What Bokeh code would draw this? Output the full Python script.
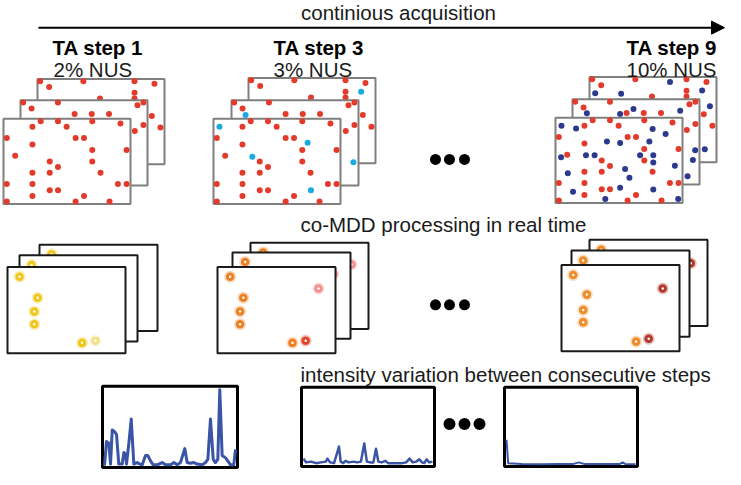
from bokeh.plotting import figure
from bokeh.models import Range1d, Arrow, NormalHead
from bokeh.core.properties import value
from bokeh.embed import file_html
from bokeh.resources import INLINE

# ---------------- data ----------------
step_titles = ["TA step 1", "TA step 3", "TA step 9"]
nus_labels = ["2% NUS", "3% NUS", "10% NUS"]
top_caption = "continious acquisition"
mid_caption = "co-MDD processing in real time"
bottom_caption = "intensity variation between consecutive steps"

# sampled points (relative position inside a sampling frame), shared by all steps
red_front = [(.228, .094), (.293, .03), (.429, .03), (.497, .094), (.699, .03), (.921, .057),
             (.026, .226), (.228, .302), (.568, .226), (.634, .226), (.092, .434), (.699, .366),
             (.969, .366), (.364, .502), (.429, .566), (.699, .502), (.228, .634), (.364, .634),
             (.764, .634), (.026, .766), (.228, .766), (.901, .766), (.969, .766), (.228, .906),
             (.364, .838), (.429, .838), (.634, .906), (.026, .970), (.568, .970), (.835, .970)]
red_mid = [(.021, .027), (.087, .095), (.295, .027), (.426, .160), (.561, .160), (.697, .160),
           (.921, .057), (.968, .027), (.968, .290), (.900, .360)]
red_back = [(.021, .027), (.092, .095), (.361, .027), (.764, .027), (.921, .057), (.764, .160),
            (.492, .229), (.764, .229), (.900, .435), (.968, .570)]

# new points added at step 3 (cyan) and by step 9 (navy)
cyan_front = [(.047, .094), (.306, .445), (.741, .283), (.767, .838)]
cyan_mid = [(.111, .172), (.960, .725)]
cyan_back = [(.887, .160)]
navy_front = [(.047, .095), (.162, .125), (.405, .278), (.509, .297), (.240, .441), (.308, .441),
              (.044, .464), (.666, .441), (.770, .441), (.770, .525), (.739, .278), (.867, .190),
              (.765, .133), (.097, .650), (.548, .601), (.582, .703), (.940, .563), (.138, .867),
              (.392, .954), (.509, .821), (.770, .840), (.966, .954)]
navy_mid = [(.113, .163), (.375, .171), (.480, .114), (.848, .133), (.966, .597), (.948, .711),
            (.906, .901)]
navy_back = [(.045, .189), (.249, .197), (.634, .057), (.887, .159), (.948, .341), (.908, .848)]

# co-MDD peaks per step: relative positions and colours
peaks_step1 = [(.102, .112), (.255, .356), (.227, .517), (.227, .663), (.632, .880), (.745, .854)]
peaks_step3 = [(.107, .112), (.219, .356), (.191, .517), (.191, .663), (.635, .880), (.747, .854), (.856, .251)]
peaks_step9 = [(.099, .116), (.215, .343), (.184, .522), (.184, .664), (.632, .888), (.739, .854), (.858, .272)]
peak_colors_step1 = ["#f0c61c", "#f0c61c", "#f0c61c", "#f0c61c", "#f0c61c", "#f3df8c"]
peak_colors_step3 = ["#ee8024", "#ee8024", "#ee8024", "#ee8024", "#ee8024", "#e2462b", "#f0928f"]
peak_colors_step9 = ["#ef8a29", "#ef8a29", "#ef8a29", "#ef8a29", "#ef8a29", "#b2382b", "#b2382b"]

# intensity-variation traces (x: 0..100 across panel, y: 0..1 of panel height)
trace1_x = [0, 1.5, 3.3, 4.6, 5.9, 7.6, 9.2, 10.9, 13.5, 14.8, 16.0, 16.8, 18.6, 20.4, 22.4, 24.9,
            27.0, 28.8, 31.3, 33.1, 35.1, 37.2, 40.2, 44.0, 46.6, 50.4, 52.9, 55.5, 58.0, 61.3,
            63.1, 65.6, 68.2, 70.7, 74.6, 77.1, 78.9, 80.9, 83.0, 84.7, 86.5, 88.0, 89.8, 92.4,
            94.1, 96.2, 98.7, 100]
trace1_y = [0, .31, .29, .02, .46, .44, .40, .02, .02, .17, .15, .02, .29, .60, .02, .04,
            .02, .01, .13, .13, .06, .01, .01, .04, .01, .01, .04, .01, .04, .22,
            .04, .03, .04, .02, .01, .04, .08, .60, .08, .04, .08, .98, .13, .10,
            .06, .01, .01, .21]
trace2_x = [0, 2.0, 5.9, 9.7, 13.5, 17.3, 18.6, 20.6, 23.7, 27.5, 28.8, 30.8, 32.6, 35.1, 38.9,
            41.5, 44.5, 47.1, 49.1, 51.7, 54.2, 56.2, 58.0, 60.6, 63.6, 65.6, 69.5, 75.8, 79.6,
            82.2, 84.7, 87.3, 89.8, 91.9, 93.6, 95.4, 97.5, 100]
trace2_y = [.08, .03, .04, .02, .03, .04, .08, .03, .02, .24, .04, .02, .05, .03, .04,
            .03, .04, .28, .04, .03, .03, .21, .04, .03, .05, .02, .02, .02, .03,
            .08, .03, .04, .07, .03, .02, .07, .03, .04]
trace3_x = [0, 1.3, 12, 27, 40, 52, 56, 60, 75, 88, 90, 92, 100]
trace3_y = [.33, .02, .01, .005, .01, .01, .03, .01, .01, .01, .03, .01, .005]

# ---------------- layout (pixel positions of the schematic) ----------------
FW, FH = 127, 88          # sampling frames
top_frames = [[(37, 81), (20, 103), (3, 122)],
              [(248, 80), (231, 103), (213, 122)],
              [(589, 79), (572, 102), (555, 121)]]
MW, MH = 118, 89          # spectrum frames
mid_frames = [[(39, 252), (19, 263), (7, 275)],
              [(250, 250), (232, 260), (217, 275)],
              [(589, 247), (571, 258), (561, 273)]]
panels = [(102, 398, 237, 482), (301, 399, 434, 481), (504, 399, 637, 481)]

RED, CYAN, NAVY = "#e33b2b", "#1ba9e1", "#2b3a8f"
FONT = value("Liberation Sans")
FS = "20.5px"

p = figure(width=725, height=469, x_range=Range1d(0, 725), y_range=Range1d(484, 0),
           output_backend="svg", toolbar_location=None, min_border=0)
p.xaxis.visible = False
p.yaxis.visible = False
p.grid.visible = False
p.outline_line_color = None
p.background_fill_color = "white"


def place(pts, x0, y0, w, h):
    return [x0 + u * w for u, v in pts], [y0 + v * h for u, v in pts]


def frame(x0, y0, w, h, color, lw):
    p.quad(left=[x0], right=[x0 + w], top=[y0], bottom=[y0 + h],
           fill_color="white", line_color=color, line_width=lw)


def dots(pts, x0, y0, color):
    if not pts:
        return
    xs, ys = place(pts, x0, y0, FW, FH)
    p.scatter(xs, ys, size=6, fill_color=color, line_color=None)


# top row: sampling schedules
layer_red = [red_back, red_mid, red_front]
extras = [None,
          ([cyan_back, cyan_mid, cyan_front], CYAN),
          ([navy_back, navy_mid, navy_front], NAVY)]
for s in range(3):
    for li in range(3):
        x0, y0 = top_frames[s][li]
        frame(x0, y0, FW, FH, "#7f7f7f", 2)
        dots(layer_red[li], x0, y0, RED)
        if extras[s] is not None:
            dots(extras[s][0][li], x0, y0, extras[s][1])

# middle row: co-MDD spectra
peak_sets = [(peaks_step1, peak_colors_step1), (peaks_step3, peak_colors_step3),
             (peaks_step9, peak_colors_step9)]
for s in range(3):
    pts, cols = peak_sets[s]
    for li in range(3):
        x0, y0 = mid_frames[s][li]
        frame(x0, y0, MW, MH, "#1a1a1a", 2)
        xs, ys = place(pts, x0, y0, MW, MH)
        p.scatter(xs, ys, size=12, fill_color=cols, fill_alpha=0.3, line_color=None)
        p.scatter(xs, ys, size=8.5, fill_color=cols, line_color=None)
        p.scatter(xs, ys, size=2.5, fill_color="white", line_color=None)

# bottom row: intensity variation panels
traces = [(trace1_x, trace1_y, 3), (trace2_x, trace2_y, 2.5), (trace3_x, trace3_y, 2)]
for (l, t, r, b), (tx, ty, lw) in zip(panels, traces):
    p.quad(left=[l], right=[r], top=[t], bottom=[b], fill_color="white",
           line_color="black", line_width=3)
    il, ir, ib, it = l + 2, r - 2, b - 2, t + 2
    xs = [il + x / 100 * (ir - il) for x in tx]
    ys = [ib - y * (ib - it) for y in ty]
    p.line(xs, ys, line_color="#3a54a6", line_width=lw, line_join="round")

# ellipsis dots
p.scatter([435, 449, 464], [164, 164, 164], size=11, fill_color="black", line_color=None)
p.scatter([435, 449, 464], [314, 314, 314], size=11, fill_color="black", line_color=None)
p.scatter([449, 464, 479], [437, 437, 437], size=12, fill_color="black", line_color=None)

# arrow of time
p.add_layout(Arrow(end=NormalHead(size=13, fill_color="black", line_color="black"),
                   x_start=38, y_start=28, x_end=724, y_end=28,
                   line_color="black", line_width=2))

# texts
p.text(x=[398], y=[12], text=[top_caption], text_font=FONT, text_font_size=FS,
       text_align="center", text_baseline="middle", text_color="#1a1a1a")
p.text(x=[52, 273, 626], y=[48, 48, 48], text=step_titles, text_font=FONT,
       text_font_size=FS, text_font_style="bold", text_baseline="middle",
       text_color="black")
p.text(x=[53, 273, 626], y=[71, 71, 71], text=nus_labels, text_font=FONT,
       text_font_size=FS, text_baseline="middle", text_color="#1a1a1a")
p.text(x=[300], y=[231], text=[mid_caption], text_font=FONT, text_font_size=FS,
       text_baseline="middle", text_color="#1a1a1a")
p.text(x=[300], y=[386], text=[bottom_caption], text_font=FONT, text_font_size=FS,
       text_baseline="middle", text_color="#1a1a1a")

open("out.html", "w").write(file_html(p, INLINE))
